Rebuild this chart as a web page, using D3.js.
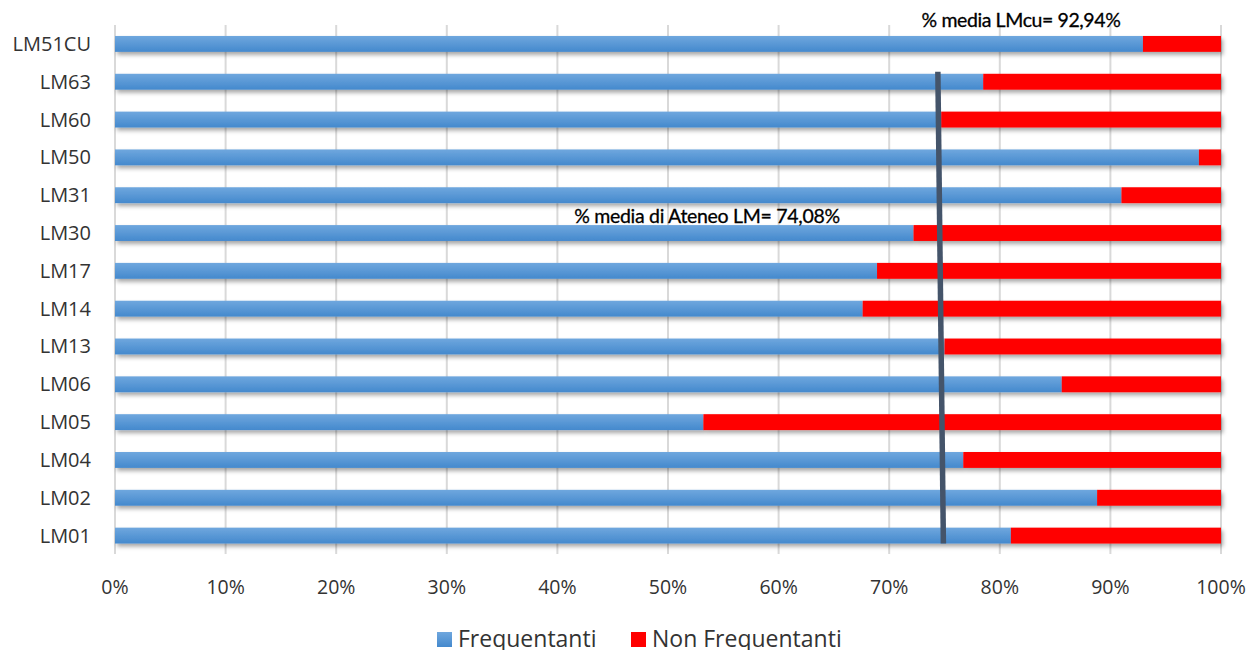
<!DOCTYPE html>
<html><head><meta charset="utf-8">
<script src="https://cdn.jsdelivr.net/npm/d3@7"></script>
<style>body{margin:0;background:#fff}svg{display:block}</style>
</head><body>
<svg id="c" width="1248" height="650"></svg>
<script>
const categories = ["LM51CU","LM63","LM60","LM50","LM31","LM30","LM17","LM14","LM13","LM06","LM05","LM04","LM02","LM01"];
const frequentanti = [92.94,78.5,74.7,98.0,91.0,72.2,68.9,67.6,75.0,85.6,53.2,76.7,88.8,81.0];
const nonFrequentanti = frequentanti.map(v => 100 - v);
const tickValues = [0,10,20,30,40,50,60,70,80,90,100];
const seriesNames = ["Frequentanti","Non Frequentanti"];
const meanAteneo = 74.08;
const meanLineTop = 74.4, meanLineBottom = 74.9;
const annotations = ["% media LMcu= 92,94%", "% media di Ateneo LM= 74,08%"];

const svg = d3.select("#c");
const x = d3.scaleLinear().domain([0,100]).range([115,1221]);
const y = d3.scaleBand().domain(categories).range([25,554.5]).paddingInner(0.58).paddingOuter(0.29);

const defs = svg.append("defs");
const g = defs.append("linearGradient").attr("id","blueGrad").attr("x1",0).attr("y1",0).attr("x2",0).attr("y2",1);
g.append("stop").attr("offset","0%").attr("stop-color","#6fa7de");
g.append("stop").attr("offset","100%").attr("stop-color","#4489cd");
const f = defs.append("filter").attr("id","sh").attr("x","-5%").attr("y","-50%").attr("width","110%").attr("height","250%");
f.append("feDropShadow").attr("dx",2).attr("dy",3).attr("stdDeviation",2).attr("flood-color","#000").attr("flood-opacity",0.35);

// gridlines
svg.append("g").selectAll("line").data(tickValues).join("line")
  .attr("x1",d=>x(d)).attr("x2",d=>x(d)).attr("y1",25).attr("y2",554)
  .attr("stroke","#d9d9d9").attr("stroke-width",2);

// x tick labels
svg.append("g").selectAll("text").data(tickValues).join("text")
  .attr("x",d=>x(d)).attr("y",594).attr("text-anchor","middle")
  .attr("font-family","Open Sans, sans-serif").attr("font-size",19.5).attr("fill","#333")
  .text(d=>d+"%");

// category labels
svg.append("g").selectAll("text").data(categories).join("text")
  .attr("x",91).attr("y",d=>y(d)+y.bandwidth()/2+7).attr("text-anchor","end")
  .attr("font-family","Open Sans, sans-serif").attr("font-size",20).attr("fill","#333")
  .text(d=>d);

// bars
const rows = svg.append("g").attr("filter","url(#sh)");
rows.selectAll("rect.f").data(categories).join("rect").attr("class","f")
  .attr("x",x(0)).attr("y",d=>y(d)).attr("height",y.bandwidth())
  .attr("width",(d,i)=>x(frequentanti[i])-x(0)).attr("fill","url(#blueGrad)");
rows.selectAll("rect.n").data(categories).join("rect").attr("class","n")
  .attr("x",(d,i)=>x(frequentanti[i])).attr("y",d=>y(d)).attr("height",y.bandwidth())
  .attr("width",(d,i)=>x(100)-x(frequentanti[i])).attr("fill","#ff0000");

// mean line
svg.append("line")
  .attr("x1",x(meanLineTop)).attr("y1",y("LM63")-2)
  .attr("x2",x(meanLineBottom)).attr("y2",y("LM01")+y.bandwidth())
  .attr("stroke","#44546a").attr("stroke-width",5.5);

// annotations
svg.append("text").attr("x",1021).attr("y",27).attr("text-anchor","middle")
  .attr("font-family","Lato, sans-serif").attr("font-size",19.5).attr("fill","#000")
  .attr("stroke","#000").attr("stroke-width",0.3)
  .attr("letter-spacing",-0.4).text(annotations[0]);
svg.append("text").attr("x",707).attr("y",223).attr("text-anchor","middle")
  .attr("font-family","Lato, sans-serif").attr("font-size",19.5).attr("fill","#000")
  .attr("stroke","#000").attr("stroke-width",0.3)
  .attr("letter-spacing",-0.3).text(annotations[1]);

// legend
const leg = svg.append("g");
const legX = [437, 631];
const legColors = ["url(#blueGrad)","#ff0000"];
seriesNames.forEach((n,i)=>{
  leg.append("rect").attr("x",legX[i]).attr("y",632).attr("width",15).attr("height",15).attr("fill",legColors[i]);
  leg.append("text").attr("x",legX[i]+21).attr("y",647)
    .attr("font-family","Open Sans, sans-serif").attr("font-size",23).attr("fill","#333").text(n);
});
</script>
</body></html>
